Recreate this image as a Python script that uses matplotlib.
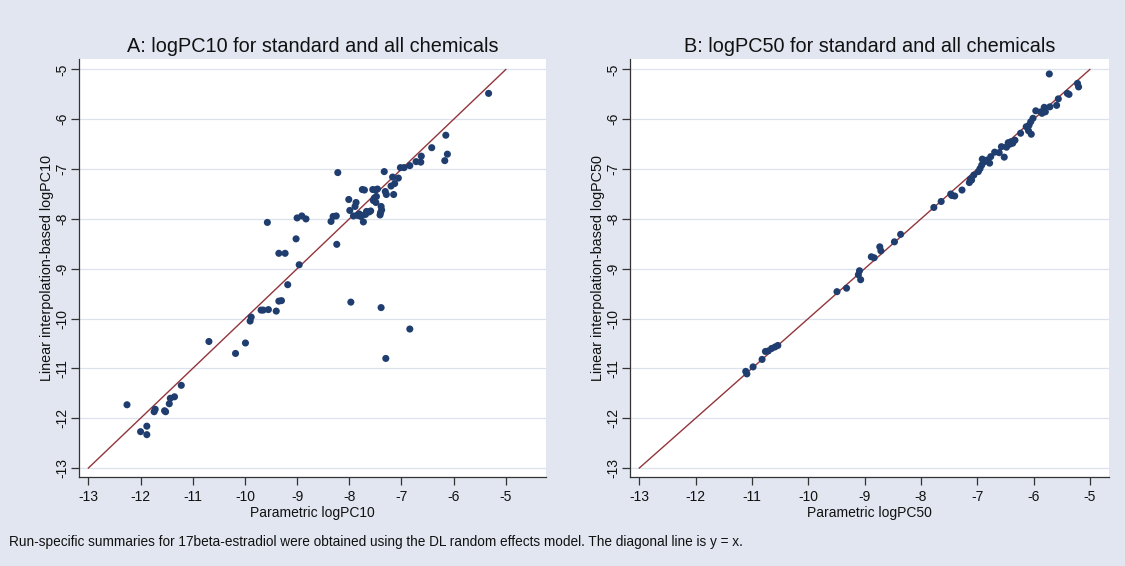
import numpy as np
import matplotlib
matplotlib.use("Agg")
import matplotlib.pyplot as plt

plt.rcParams['font.family'] = ['Liberation Sans', 'DejaVu Sans']

# panel A: parametric vs linear-interpolation logPC10
pc10_param = [-5.33, -6.15, -6.12, -6.17, -6.42, -6.62, -6.63, -6.72, -6.84, -6.95,
              -7.02, -7.06, -7.17, -7.13, -7.20, -7.15, -7.33, -7.31, -7.29, -7.55,
              -7.46, -7.50, -7.75, -7.71, -7.48, -7.54, -7.49, -7.52, -7.39, -7.38,
              -7.40, -7.41, -7.59, -7.67, -7.69, -7.73, -7.81, -7.76, -7.87, -7.89,
              -8.01, -7.99, -7.92, -7.84, -7.78, -7.62, -8.22, -8.25, -8.31, -8.35,
              -8.24, -8.83, -8.91, -9.00, -9.02, -8.96, -9.57, -9.35, -9.23, -9.18,
              -9.35, -9.30, -9.40, -9.55, -9.69, -9.65, -9.88, -9.90, -9.99, -10.18,
              -10.69, -7.97, -7.39, -6.84, -7.30, -11.22, -11.35, -11.43, -11.45, -11.52,
              -11.54, -11.72, -11.74, -12.26, -12.00, -11.88, -11.88]
pc10_interp = [-5.48, -6.32, -6.70, -6.83, -6.57, -6.74, -6.86, -6.85, -6.93, -6.97,
               -6.97, -7.18, -7.16, -7.29, -7.34, -7.51, -7.05, -7.45, -7.51, -7.41,
               -7.40, -7.42, -7.41, -7.42, -7.55, -7.63, -7.67, -7.58, -7.75, -7.82,
               -7.87, -7.92, -7.84, -7.85, -7.91, -8.06, -7.90, -7.93, -7.67, -7.75,
               -7.61, -7.83, -7.94, -7.93, -7.95, -7.86, -7.07, -7.94, -7.95, -8.05,
               -8.51, -8.00, -7.94, -7.98, -8.40, -8.92, -8.07, -8.69, -8.69, -9.32,
               -9.65, -9.64, -9.85, -9.82, -9.83, -9.83, -9.97, -10.05, -10.49, -10.70,
               -10.46, -9.67, -9.78, -10.21, -10.80, -11.34, -11.57, -11.60, -11.71, -11.87,
               -11.85, -11.82, -11.87, -11.73, -12.27, -12.16, -12.33]

# panel B: parametric vs linear-interpolation logPC50
pc50_param = [-5.72, -5.22, -5.20, -5.40, -5.37, -5.56, -5.59, -5.71, -5.81, -5.79,
              -5.85, -5.96, -6.01, -6.05, -6.08, -6.09, -6.04, -6.23, -6.33, -6.37,
              -6.45, -6.48, -6.52, -6.61, -6.69, -6.76, -6.78, -6.83, -6.91, -6.92,
              -6.95, -6.98, -7.06, -7.10, -7.14, -7.27, -7.40, -7.47, -7.64, -7.77,
              -8.36, -8.47, -8.71, -8.73, -8.83, -8.88, -9.07, -9.11, -9.09, -9.32,
              -9.49, -10.54, -10.59, -10.65, -10.71, -10.76, -10.82, -10.98, -11.09, -11.11,
              -6.40, -6.42, -6.57, -6.87, -7.12, -7.45, -5.87, -6.13]
pc50_interp = [-5.09, -5.28, -5.35, -5.48, -5.50, -5.59, -5.72, -5.75, -5.76, -5.85,
               -5.88, -5.83, -5.98, -6.05, -6.12, -6.23, -6.30, -6.28, -6.42, -6.48,
               -6.47, -6.56, -6.76, -6.67, -6.66, -6.75, -6.88, -6.82, -6.80, -6.92,
               -6.99, -7.05, -7.12, -7.22, -7.27, -7.42, -7.54, -7.50, -7.65, -7.77,
               -8.31, -8.46, -8.64, -8.56, -8.78, -8.76, -9.22, -9.12, -9.04, -9.39,
               -9.46, -10.54, -10.57, -10.60, -10.65, -10.66, -10.82, -10.97, -11.11, -11.06,
               -6.45, -6.50, -6.55, -6.85, -7.20, -7.53, -5.85, -6.15]

ticks = [-13, -12, -11, -10, -9, -8, -7, -6, -5]

bg = '#E1E6F0'
navy = '#1F3D6E'
maroon = '#93353B'

fig = plt.figure(figsize=(11.25, 5.66), dpi=100, facecolor=bg)
W, H = 1125, 566

def make_ax(left, right, top, bottom):
    return fig.add_axes([left / W, 1 - bottom / H, (right - left) / W, (bottom - top) / H])

axA = make_ax(79, 546, 59, 477)
axB = make_ax(630, 1109, 59, 477)

panels = [
    (axA, pc10_param, pc10_interp, (-13.18, -4.23),
     "A: logPC10 for standard and all chemicals", "Parametric logPC10",
     "Linear interpolation-based logPC10"),
    (axB, pc50_param, pc50_interp, (-13.165, -4.66),
     "B: logPC50 for standard and all chemicals", "Parametric logPC50",
     "Linear interpolation-based logPC50"),
]

for ax, xs, ys, xl, title, xlab, ylab in panels:
    ax.set_facecolor('white')
    ax.set_xlim(xl)
    ax.set_ylim(-13.18, -4.79)
    ax.set_xticks(ticks)
    ax.set_yticks(ticks)
    ax.set_xticklabels([str(t) for t in ticks])
    ax.set_yticklabels([str(t) for t in ticks])
    ax.grid(axis='y', color='#DCE2EC', linewidth=0.9)
    ax.set_axisbelow(True)
    for s in ['top', 'right']:
        ax.spines[s].set_visible(False)
    for s in ['left', 'bottom']:
        ax.spines[s].set_color('#333333')
        ax.spines[s].set_linewidth(0.9)
    ax.tick_params(axis='both', direction='out', length=6, width=0.9,
                   color='#333333', labelsize=10, labelcolor='#111111')
    ax.tick_params(axis='y', labelrotation=90, pad=1)
    for lab in ax.get_yticklabels():
        lab.set_va('center')

    line = np.array([-13, -5])
    ax.plot(line, line, color=maroon, linewidth=1.0, zorder=2)
    ax.scatter(xs, ys, s=26, color=navy, edgecolors='none', zorder=3)

    ax.set_title(title, fontsize=14.3, color='#111111', pad=5)
    ax.set_xlabel(xlab, fontsize=10, color='#111111', labelpad=1)
    ax.set_ylabel(ylab, fontsize=10.4, color='#111111', labelpad=1)

fig.text(9 / W, 1 - 546 / H,
         "Run-specific summaries for 17beta-estradiol were obtained using the DL random "
         "effects model. The diagonal line is y = x.",
         fontsize=9.8, color='#111111', va='baseline', ha='left')

fig.savefig("out.png", dpi=100, facecolor=bg)
